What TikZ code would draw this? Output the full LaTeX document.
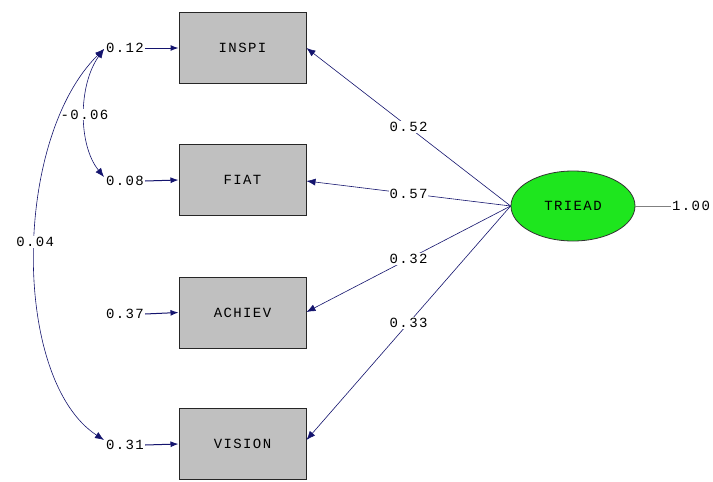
\documentclass[tikz,border=0pt]{standalone}
\usepackage{fontspec}
\setmainfont{Liberation Mono}[LetterSpace=10]
\usetikzlibrary{arrows.meta,shapes.geometric}
\definecolor{navy}{RGB}{20,20,110}
\definecolor{boxgray}{RGB}{192,192,192}
\definecolor{latgreen}{RGB}{30,230,30}
\tikzset{
  obs/.style={draw=black!85,line width=1pt,fill=boxgray,minimum width=127pt,minimum height=71pt,inner sep=0pt,font=\fontsize{14}{14}\selectfont},
  lat/.style={ellipse,draw=black!80,line width=0.8pt,fill=latgreen,minimum width=124pt,minimum height=70pt,inner sep=0pt,font=\fontsize{14}{14}\selectfont},
  lbl/.style={inner sep=1pt,font=\fontsize{14}{14}\selectfont},
  onl/.style={fill=white,inner sep=1pt,font=\fontsize{14}{14}\selectfont},
  path/.style={draw=navy,line width=0.6pt,-{Latex[length=9pt,width=7pt]}},
  err/.style={draw=navy,line width=1pt,-{Latex[length=8pt,width=6pt]}},
  cov/.style={draw=navy,line width=0.6pt,{Latex[length=9pt,width=7pt]}-{Latex[length=9pt,width=7pt]}}
}
\begin{document}
\begin{tikzpicture}[x=1pt,y=-1pt]
\useasboundingbox[fill=white] (0,0) rectangle (713,482);
% observed variables
\node[obs] (INSPI) at (242.5,48) {INSPI};
\node[obs] (FIAT) at (242.5,180) {FIAT};
\node[obs] (ACHIEV) at (242.5,312.5) {ACHIEV};
\node[obs] (VISION) at (242.5,444) {VISION};
% latent
\node[lat] (TRIEAD) at (573,206) {TRIEAD};
% error variances
\node[lbl] (e1) at (125,48) {0.12};
\node[lbl] (e2) at (125,181) {0.08};
\node[lbl] (e3) at (125,314) {0.37};
\node[lbl] (e4) at (125,445) {0.31};
\draw[err] (e1.east) -- (INSPI.west);
\draw[err] (e2.east) -- (FIAT.west);
\draw[err] (e3.east) -- (ACHIEV.west);
\draw[err] (e4.east) -- (VISION.west);
% latent variance
\node[lbl] (v) at (691,206) {1.00};
\draw[draw=gray,line width=0.5pt] (TRIEAD.east) -- (v.west);
% loadings
\coordinate (t) at (TRIEAD.west);
\draw[path] (t) -- node[onl,pos=0.5] {0.52} (INSPI.east |- 0,48);
\draw[path] (t) -- node[onl,pos=0.5] {0.57} (FIAT.east |- 0,181);
\draw[path] (t) -- node[onl,pos=0.5] {0.32} (ACHIEV.east |- 0,312);
\draw[path] (t) -- node[onl,pos=0.5] {0.33} (VISION.east |- 0,440);
% covariances
\coordinate (c1) at (104,49);
\coordinate (c2) at (104,177);
\coordinate (c4) at (104,440);
\draw[cov] (c1) .. controls (78,85) and (78,145) .. node[onl,pos=0.5] {-0.06} (c2);
\draw[cov] (c1) .. controls (12,140) and (12,380) .. node[onl,pos=0.47] {0.04} (c4);
\end{tikzpicture}
\end{document}
